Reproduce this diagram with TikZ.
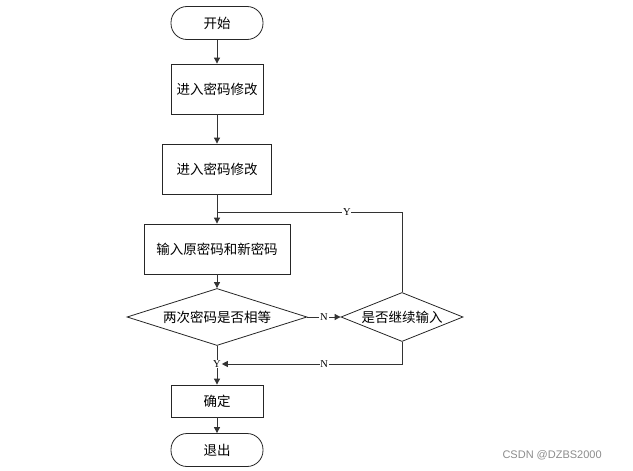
\documentclass[tikz,border=0pt]{standalone}
\usepackage{fontspec}
\setmainfont{Liberation Serif}
\newfontfamily\cjk{Noto Sans CJK SC}
\newfontfamily\wmfont{Liberation Sans}
\usetikzlibrary{arrows.meta,shapes.geometric}
\begin{document}
\begin{tikzpicture}[x=1pt,y=-1pt,
  line/.style={draw=black!80,line width=0.9pt},
  arr/.style={line,-{Triangle[length=6pt,width=6pt]}},
  cjkfont/.style={font=\cjk\fontsize{13.5}{15}\selectfont},
  term/.style={draw=black!85,line width=0.8pt,rounded corners=16pt,minimum width=92pt,minimum height=33pt,cjkfont,inner sep=0pt},
  procbox/.style={draw=black!85,line width=0.8pt,minimum height=50pt,cjkfont,inner sep=0pt},
  decide/.style={draw=black!85,line width=0.8pt,diamond,inner sep=0pt,cjkfont},
  lab/.style={fill=white,inner sep=0.8pt,font=\fontsize{10.5}{11}\selectfont}]
\useasboundingbox (0,0) rectangle (633,471);
\node[term] (start) at (217,23) {开始};
\node[procbox,minimum width=92pt] (b1) at (217,89) {进入密码修改};
\node[procbox,minimum width=109pt] (b2) at (217,169) {进入密码修改};
\node[procbox,minimum width=146pt] (b3) at (217,249) {输入原密码和新密码};
\node[decide,minimum width=180pt,minimum height=57pt] (d1) at (217,317) {\makebox[0pt]{两次密码是否相等}};
\node[decide,minimum width=122pt,minimum height=49pt] (d2) at (402,317) {\makebox[0pt]{是否继续输入}};
\node[procbox,minimum width=92pt,minimum height=32pt] (b4) at (217,401) {确定};
\node[term] (stop) at (217,450) {退出};
\coordinate (m1) at (217,212);
\node[font=\wmfont\fontsize{11}{12}\selectfont,text=black!45,anchor=west] (wm) at (499,455) {CSDN @DZBS2000};
\draw[arr] (start) -- (b1);
\draw[arr] (b1) -- (b2);
\draw[arr] (b2) -- (b3);
\draw[arr] (b3) -- (d1);
\draw[arr] (d1) -- node[lab] {N} (d2);
\draw[line] (d2.north) |- node[lab,pos=0.649] {Y} (m1);
\draw[arr] (d1.south) -- (b4);
\node[lab] (ylab) at (217,364) {Y};
\draw[arr] (d2.south) |- node[lab,pos=0.716] {N} (ylab);
\draw[arr] (b4) -- (stop);
\end{tikzpicture}
\end{document}
